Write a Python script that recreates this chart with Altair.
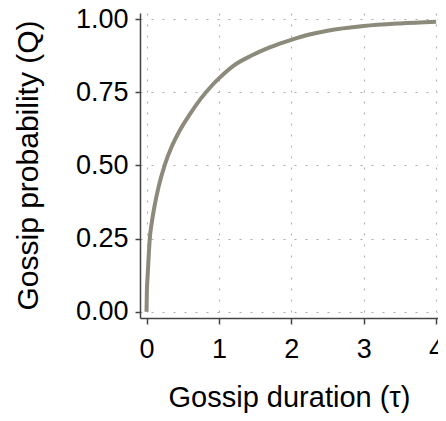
import altair as alt
import pandas as pd

tau = [0, 0.005, 0.015, 0.03, 0.045, 0.07, 0.11, 0.17, 0.25, 0.35, 0.45,
       0.6, 0.75, 0.9, 1.0, 1.1, 1.2, 1.45, 1.7, 2.0, 2.25, 2.5, 3.0, 3.5, 4.0]
Q = [0, 0.07, 0.12, 0.19, 0.25, 0.30, 0.36, 0.43, 0.50, 0.565, 0.615,
     0.675, 0.728, 0.772, 0.797, 0.82, 0.84, 0.875, 0.903, 0.929, 0.947, 0.96,
     0.976, 0.985, 0.991]
x_ticks = [0, 1, 2, 3, 4]
y_ticks = [0, 0.25, 0.5, 0.75, 1.0]

df = pd.DataFrame({"tau": tau, "Q": Q})

FONT = "Liberation Sans"

chart = alt.Chart(df).mark_line(
    color="#8c8a7a", strokeWidth=4, interpolate="monotone"
).encode(
    x=alt.X("tau:Q",
            scale=alt.Scale(domain=[-0.09, 4.026], nice=False, zero=False),
            axis=alt.Axis(values=x_ticks, format="d", title="Gossip duration (τ)",
                          tickSize=6, labelPadding=12, labelFontSize=27,
                          titleFontSize=29, titleFontWeight="normal",
                          titleBaseline="alphabetic", titleY=88,
                          labelFlush=False)),
    y=alt.Y("Q:Q",
            scale=alt.Scale(domain=[-0.0215, 1.0205], nice=False, zero=False),
            axis=alt.Axis(values=y_ticks, format=".2f", title="Gossip probability (Q)",
                          tickSize=5, labelPadding=7, labelFontSize=27,
                          titleFontSize=30, titleFontWeight="normal",
                          titleAngle=270, titleBaseline="alphabetic",
                          titleX=-103, titleY=152, titleAlign="center",
                          labelFlush=False)),
).properties(
    width=298, height=305,
    autosize=alt.AutoSizeParams(type="none"),
    padding={"left": 132, "top": 5, "right": 0, "bottom": 95},
).configure_axis(
    labelFont=FONT, titleFont=FONT, labelColor="black", titleColor="black",
    domainColor="#444444", domainWidth=1.5, tickColor="#444444", tickWidth=1.5,
    grid=True, gridColor="#aaaaaa", gridDash=[2, 9], gridWidth=1,
).configure_view(stroke=None)

chart.save("out.html", embed_options={"renderer": "svg", "actions": False})
